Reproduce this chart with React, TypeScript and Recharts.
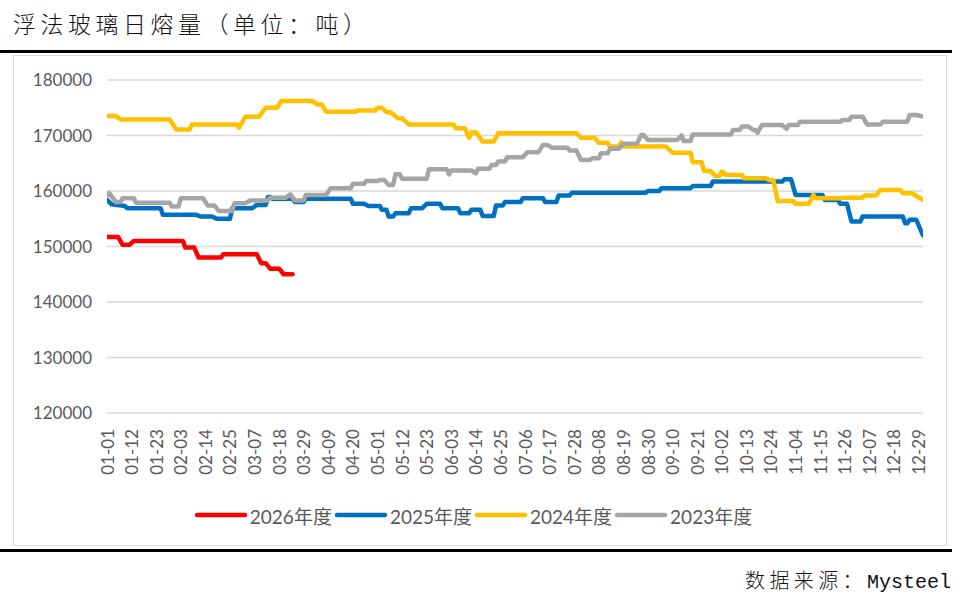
import React from 'react';
import { LineChart, Line, XAxis, YAxis, CartesianGrid, Legend } from 'recharts';

// x-axis tick labels (every 11th day of a 366-day calendar)
const tickLabels = [
  '01-01', '01-12', '01-23', '02-03', '02-14', '02-25', '03-07', '03-18', '03-29',
  '04-09', '04-20', '05-01', '05-12', '05-23', '06-03', '06-14', '06-25', '07-06',
  '07-17', '07-28', '08-08', '08-19', '08-30', '09-10', '09-21', '10-02', '10-13',
  '10-24', '11-04', '11-15', '11-26', '12-07', '12-18', '12-29',
];
const tickDays = tickLabels.map((_, i) => i * 11);
const yTicks = [120000, 130000, 140000, 150000, 160000, 170000, 180000];

// [day index, daily melt (t)]
const s2026: [number, number][] = [
  [0, 151700], [5, 151700], [7, 150300], [10, 150300], [12, 151000], [34, 151000],
  [35, 149800], [39, 149800], [41, 148000], [51, 148000], [52, 148600], [67, 148600],
  [69, 147000], [71, 147000], [73, 146000], [77, 146000], [79, 145000], [83, 145000],
];

const s2025: [number, number][] = [
  [0, 158400], [2, 157600], [8, 157300], [9, 156900], [24, 156900], [25, 155700],
  [40, 155700], [42, 155400], [47, 155400], [49, 155000], [55, 155000], [56, 156900],
  [65, 156900], [67, 157500], [71, 157500], [72, 158900], [73, 158900], [74, 158600],
  [83, 158600], [84, 158000], [88, 158000], [89, 158600], [109, 158600], [110, 157700],
  [115, 157700], [117, 157300], [122, 157300], [123, 156600], [125, 156600], [126, 155400],
  [128, 155400], [129, 156000], [135, 156000], [136, 156900], [141, 156900], [143, 157700],
  [149, 157700], [150, 156900], [157, 156900], [158, 156000], [162, 156000], [163, 156600],
  [167, 156600], [168, 155500], [173, 155500], [174, 157400], [177, 157400], [178, 158000],
  [185, 158000], [186, 158700], [195, 158700], [196, 158000], [201, 158000], [202, 159200],
  [207, 159200], [208, 159700], [241, 159700], [242, 160000], [247, 160000], [248, 160500],
  [261, 160500], [262, 160900], [270, 160900], [271, 161700], [302, 161700], [303, 162100],
  [306, 162100], [308, 159300], [320, 159300], [321, 158400], [327, 158400], [328, 157700],
  [331, 157700], [333, 154500], [337, 154500], [338, 155400], [356, 155400], [357, 154200],
  [358, 154200], [359, 154800], [362, 154800], [365, 152000],
];

const s2024: [number, number][] = [
  [0, 173500], [4, 173500], [6, 172900], [28, 172900], [31, 171100], [37, 171100],
  [38, 172000], [58, 172000], [59, 171400], [62, 173400], [68, 173400], [71, 175000],
  [76, 175000], [78, 176200], [92, 176200], [94, 175600], [96, 175600], [98, 174300],
  [111, 174300], [112, 174500], [120, 174500], [121, 175000], [123, 175000], [125, 174200],
  [127, 174200], [130, 173100], [132, 173100], [135, 172000], [155, 172000], [156, 171300],
  [160, 171300], [162, 169600], [163, 170600], [165, 170600], [168, 168900], [173, 168900],
  [175, 170400], [210, 170400], [212, 169600], [218, 169600], [220, 168700], [224, 168700],
  [225, 168000], [229, 168000], [230, 168800], [231, 168000], [250, 168000], [253, 166900],
  [261, 166900], [262, 165200], [266, 165200], [267, 163600], [270, 163600], [272, 162700],
  [274, 162700], [275, 163500], [277, 162900], [284, 162900], [285, 162300], [295, 162300],
  [296, 162000], [298, 162000], [300, 158200], [307, 158200], [308, 157700], [314, 157700],
  [316, 159300], [317, 158700], [328, 158700], [329, 158800], [338, 158800], [339, 159200],
  [344, 159200], [346, 160200], [355, 160200], [356, 159600], [360, 159600], [365, 158400],
];

const s2023: [number, number][] = [
  [0, 159200], [1, 159600], [4, 158000], [6, 158000], [7, 158700], [12, 158700],
  [13, 157900], [28, 157900], [29, 157200], [32, 157200], [33, 158700], [43, 158700],
  [45, 157400], [48, 157400], [50, 156400], [56, 156400], [57, 157800], [62, 157800],
  [64, 158300], [72, 158300], [73, 158800], [80, 158800], [82, 159400], [84, 158300],
  [88, 158300], [89, 159300], [98, 159300], [100, 160500], [109, 160500], [110, 161300],
  [115, 161300], [116, 161800], [121, 161800], [122, 162000], [124, 162000], [126, 161100],
  [128, 161100], [129, 163000], [131, 163000], [132, 162200], [143, 162200], [144, 163900],
  [152, 163900], [153, 163000], [154, 163700], [163, 163700], [165, 163200], [166, 164000],
  [171, 164000], [172, 164700], [174, 164700], [175, 165300], [178, 165300], [179, 166100],
  [186, 166100], [188, 167000], [193, 167000], [195, 168300], [197, 168300], [199, 167800],
  [206, 167800], [207, 167300], [210, 167300], [212, 165600], [216, 165600], [217, 165900],
  [220, 165900], [221, 166800], [224, 166800], [225, 167600], [229, 167600], [231, 168500],
  [237, 168500], [239, 170100], [240, 170100], [242, 169200], [255, 169200], [257, 170000],
  [258, 169000], [261, 169000], [262, 170200], [279, 170200], [280, 171000], [283, 171000],
  [284, 171600], [287, 171600], [289, 171000], [290, 171000], [291, 170500], [293, 171900],
  [302, 171900], [304, 171200], [305, 171900], [309, 171900], [310, 172500], [328, 172500],
  [329, 172800], [332, 172800], [333, 173400], [338, 173400], [340, 172000], [346, 172000],
  [347, 172500], [358, 172500], [359, 173700], [362, 173700], [365, 173400],
];

const seriesNames = ['2026年度', '2025年度', '2024年度', '2023年度'];
const seriesColors = ['#FF0000', '#0070C0', '#FFC000', '#A5A5A5'];
const seriesPoints = [s2026, s2025, s2024, s2023];

const TEXT = '#595959';
const FONT = 'Lato, "Noto Sans CJK SC", sans-serif';

const XTick = (props: any) => {
  const { x, y, payload } = props;
  const idx = tickDays.indexOf(payload.value);
  return (
    <text
      x={x}
      y={y + 2}
      transform={`rotate(-90, ${x}, ${y + 2})`}
      textAnchor="end"
      dominantBaseline="central"
      fill={TEXT}
      fontSize={17}
      fontFamily={FONT}
    >
      {idx >= 0 ? tickLabels[idx] : ''}
    </text>
  );
};

const LegendContent = () => (
  <div
    style={{
      display: 'flex',
      justifyContent: 'center',
      alignItems: 'center',
      height: 30,
      fontFamily: FONT,
      fontSize: 19,
      color: TEXT,
      paddingLeft: 12,
    }}
  >
    {seriesNames.map((name, i) => (
      <div key={name} style={{ display: 'flex', alignItems: 'center' }}>
        <svg width={54} height={10} style={{ display: 'block' }}>
          <line x1={3} x2={51} y1={5} y2={5} stroke={seriesColors[i]} strokeWidth={4.5} strokeLinecap="round" />
        </svg>
        <span style={{ marginLeft: 2, marginRight: 2, whiteSpace: 'nowrap' }}>{name}</span>
      </div>
    ))}
  </div>
);

export default function App() {
  return (
    <div style={{ position: 'absolute', left: 0, top: 0, width: 970, height: 600, background: '#fff', overflow: 'hidden' }}>
      <div
        style={{
          position: 'absolute',
          left: 13,
          top: 12,
          fontSize: 23,
          lineHeight: '23px',
          letterSpacing: 4.5,
          fontFamily: '"Noto Sans CJK SC", sans-serif',
          fontWeight: 300,
          color: '#111',
          whiteSpace: 'nowrap',
        }}
      >
        浮法玻璃日熔量（单位：吨）
      </div>
      <div style={{ position: 'absolute', left: 0, top: 50, width: 952, height: 3, background: '#000' }} />
      <div
        style={{
          position: 'absolute',
          left: 13,
          top: 55,
          width: 934,
          height: 491,
          border: '1px solid #d9d9d9',
          boxSizing: 'border-box',
        }}
      />
      <div style={{ position: 'absolute', left: 13, top: 56 }}>
        <LineChart width={934} height={490} margin={{ top: 24, right: 24, left: 0, bottom: 16 }}>
          <CartesianGrid vertical={false} stroke="#d9d9d9" strokeWidth={1.5} />
          <XAxis
            type="number"
            dataKey="d"
            domain={[0, 365]}
            ticks={tickDays}
            interval={0}
            axisLine={false}
            tickLine={false}
            tickSize={0}
            tickMargin={14}
            height={87}
            tick={<XTick />}
            allowDataOverflow
          />
          <YAxis
            type="number"
            domain={[120000, 180000]}
            ticks={yTicks}
            interval={0}
            axisLine={false}
            tickLine={false}
            tickSize={0}
            tickMargin={15}
            width={94}
            tick={{ fill: TEXT, fontSize: 17, fontFamily: FONT }}
          />
          <Legend verticalAlign="bottom" height={30} content={<LegendContent />} />
          {seriesNames.map((name, i) => (
            <Line
              key={name}
              name={name}
              data={seriesPoints[i].map(([d, v]) => ({ d, v }))}
              dataKey="v"
              type="linear"
              stroke={seriesColors[i]}
              strokeWidth={4.5}
              strokeLinejoin="round"
              strokeLinecap="round"
              dot={false}
              activeDot={false}
              isAnimationActive={false}
            />
          ))}
        </LineChart>
      </div>
      <div style={{ position: 'absolute', left: 0, top: 549, width: 952, height: 3, background: '#000' }} />
      <div
        style={{
          position: 'absolute',
          left: 745,
          top: 569,
          fontSize: 20,
          lineHeight: '22px',
          color: '#111',
          whiteSpace: 'nowrap',
          display: 'flex',
          alignItems: 'baseline',
        }}
      >
        <span style={{ fontFamily: '"Noto Sans CJK SC", sans-serif', fontWeight: 300, letterSpacing: 4.4 }}>数据来源：</span>
        <span style={{ fontFamily: '"Liberation Mono", monospace' }}>Mysteel</span>
      </div>
    </div>
  );
}
